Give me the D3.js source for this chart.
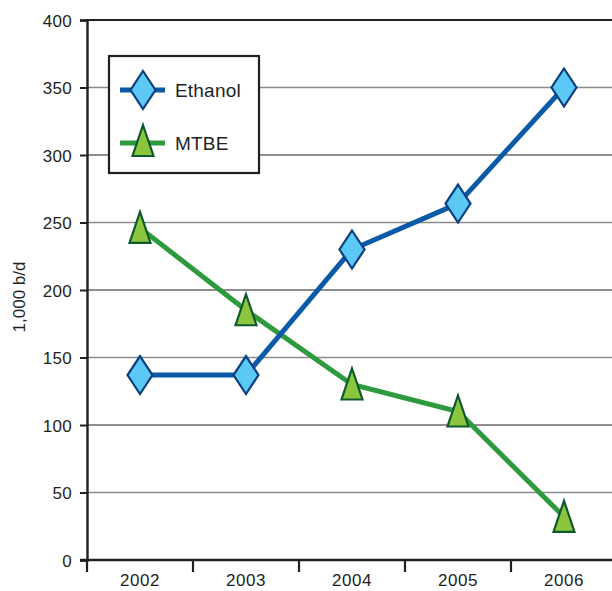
<!DOCTYPE html>
<html>
<head>
<meta charset="utf-8">
<script src="https://cdn.jsdelivr.net/npm/d3@7"></script>
<style>
  html, body { margin: 0; padding: 0; background: #fff; }
  svg { display: block; }
  text { font-family: "Liberation Sans", Arial, sans-serif; fill: #231f20; }
</style>
</head>
<body>
<svg id="chart" width="612" height="591"></svg>
<script>
// Fuel additive use, thousand barrels per day
const years = ["2002", "2003", "2004", "2005", "2006"];
const ethanol = [137, 137, 230, 264, 350];
const mtbe = [246, 185, 130, 110, 32];
const yTicks = [0, 50, 100, 150, 200, 250, 300, 350, 400];
const seriesNames = ["Ethanol", "MTBE"];

const svg = d3.select("#chart");
const plotLeft = 87, plotRight = 617, plotTop = 20, plotBottom = 560;

const x = d3.scaleBand().domain(years).range([plotLeft, plotRight]);
const y = d3.scaleLinear().domain([0, 400]).range([plotBottom, plotTop]);
const cx = d => x(d) + x.bandwidth() / 2;

// horizontal gridlines, alternating tones
svg.append("g").selectAll("line")
  .data(yTicks.filter(t => t > 0 && t < 400))
  .join("line")
  .attr("x1", plotLeft).attr("x2", 612)
  .attr("y1", d => y(d)).attr("y2", d => y(d))
  .attr("stroke", d => d % 100 === 0 ? "#231f20" : "#8a8a8a")
  .attr("stroke-width", d => d % 100 === 0 ? 1.2 : 1.6);

// top frame line
svg.append("line")
  .attr("x1", plotLeft).attr("x2", 612)
  .attr("y1", y(400)).attr("y2", y(400))
  .attr("stroke", "#231f20").attr("stroke-width", 2);

// y axis
const yAxis = d3.axisLeft(y).tickValues(yTicks).tickSize(7).tickPadding(8);
const gy = svg.append("g").attr("transform", `translate(${plotLeft},0)`).call(yAxis);
gy.attr("font-size", null).attr("font-family", null);
gy.select(".domain").attr("stroke", "#231f20").attr("stroke-width", 2.4);
gy.selectAll(".tick line").attr("stroke", "#231f20").attr("stroke-width", 2);
gy.selectAll(".tick text").attr("font-size", 17).attr("fill", "#231f20")
  .attr("letter-spacing", 0.3).attr("dy", "0.36em");

// x axis with ticks at band boundaries
const gx = svg.append("g");
gx.append("line").attr("x1", plotLeft - 7).attr("x2", 612)
  .attr("y1", plotBottom).attr("y2", plotBottom)
  .attr("stroke", "#231f20").attr("stroke-width", 2.4);
gx.selectAll("line.tk").data(years).join("line").attr("class", "tk")
  .attr("x1", d => x(d)).attr("x2", d => x(d))
  .attr("y1", plotBottom).attr("y2", plotBottom + 12)
  .attr("stroke", "#231f20").attr("stroke-width", 2.2);
gx.selectAll("text").data(years).join("text")
  .attr("x", d => cx(d)).attr("y", plotBottom + 26)
  .attr("text-anchor", "middle").attr("font-size", 17).attr("letter-spacing", 0.5)
  .text(d => d);

// y axis title
svg.append("text")
  .attr("transform", `translate(25,${(plotTop + plotBottom) / 2 + 7}) rotate(-90)`)
  .attr("text-anchor", "middle").attr("font-size", 17)
  .text("1,000 b/d");

const line = d3.line().x((d, i) => cx(years[i])).y(d => y(d));

const diamond = "M0,-19L12.5,0L0,19L-12.5,0Z";
const triangle = "M0,-16L10.5,15L-10.5,15Z";

// MTBE series
svg.append("path").datum(mtbe).attr("d", line)
  .attr("fill", "none").attr("stroke", "#2e9a3e").attr("stroke-width", 5);
// Ethanol series
svg.append("path").datum(ethanol).attr("d", line)
  .attr("fill", "none").attr("stroke", "#0a5aa8").attr("stroke-width", 5);

svg.append("g").selectAll("path").data(mtbe).join("path")
  .attr("transform", (d, i) => `translate(${cx(years[i])},${y(d)})`)
  .attr("d", triangle)
  .attr("fill", "#8cc63f").attr("stroke", "#0d5a2c").attr("stroke-width", 2.2)
  .attr("stroke-linejoin", "miter");

svg.append("g").selectAll("path").data(ethanol).join("path")
  .attr("transform", (d, i) => `translate(${cx(years[i])},${y(d)})`)
  .attr("d", diamond)
  .attr("fill", "#5bc8f5").attr("stroke", "#0b3f7e").attr("stroke-width", 2.2);

// legend
const lg = svg.append("g");
lg.append("rect").attr("x", 109).attr("y", 56).attr("width", 150).attr("height", 117)
  .attr("fill", "#fff").attr("stroke", "#231f20").attr("stroke-width", 2.2);
const legendItems = [
  { name: seriesNames[0], color: "#0a5aa8", fill: "#5bc8f5", stroke: "#0b3f7e", shape: diamond, yy: 90 },
  { name: seriesNames[1], color: "#2e9a3e", fill: "#8cc63f", stroke: "#0d5a2c", shape: triangle, yy: 143 }
];
legendItems.forEach(it => {
  lg.append("line").attr("x1", 120).attr("x2", 165).attr("y1", it.yy).attr("y2", it.yy)
    .attr("stroke", it.color).attr("stroke-width", 5);
  lg.append("path").attr("transform", `translate(143,${it.yy - (it.shape === triangle ? 2 : 0)})`)
    .attr("d", it.shape).attr("fill", it.fill).attr("stroke", it.stroke).attr("stroke-width", 2.2);
  lg.append("text").attr("x", 175).attr("y", it.yy + 7).attr("font-size", 19).attr("letter-spacing", 0.2)
    .text(it.name);
});
</script>
</body>
</html>
